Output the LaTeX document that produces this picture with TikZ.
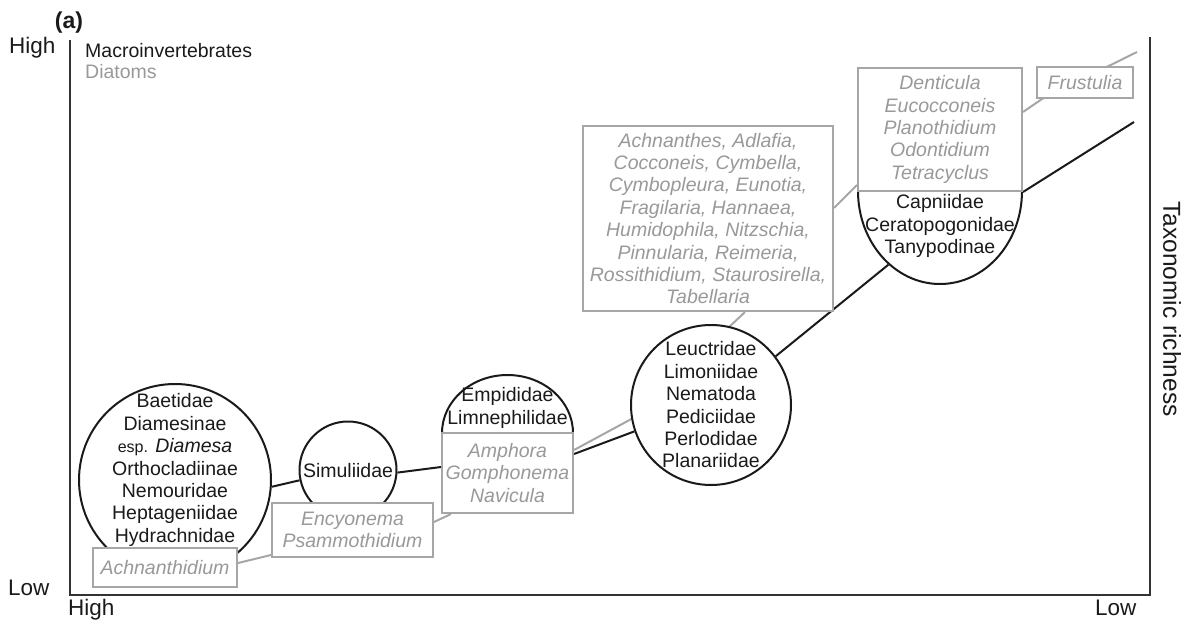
\documentclass[tikz,border=0pt]{standalone}
\usepackage{fontspec}
\setmainfont{Liberation Sans}
\usetikzlibrary{shapes.geometric,backgrounds}
\definecolor{ink}{HTML}{1A1A1A}
\definecolor{axisgray}{HTML}{333333}
\definecolor{diat}{HTML}{999999}
\definecolor{diatline}{HTML}{A6A6A6}

\begin{document}
\begin{tikzpicture}[x=1pt,y=-1pt,
  txt/.style={font=\fontsize{19.5}{22.4}\selectfont, text=ink, align=center, inner sep=0pt},
  gtxt/.style={font=\fontsize{19.5}{22.4}\selectfont\itshape, text=diat, align=center, inner sep=0pt},
  taxon/.style={circle, draw=ink, line width=2pt, fill=white, inner sep=0pt},
  capshape/.style={ellipse, draw=ink, line width=2pt, fill=white, inner sep=0pt},
  genbox/.style={rectangle, draw=diatline, line width=2pt, fill=white, gtxt},
  mline/.style={draw=ink, line width=2pt},
  dline/.style={draw=diatline, line width=2pt},
  axisline/.style={draw=axisgray, line width=2.4pt},
  axlabel/.style={font=\fontsize{22.5}{26}\selectfont, text=ink, inner sep=0pt},
]
\useasboundingbox (0,0) rectangle (1184,624);

% ---- macroinvertebrate groups (circles) and diatom genera (boxes) ----
\node[taxon, minimum size=192pt] (c1) at (175,480) {};
\node[genbox, minimum width=144pt, minimum height=39pt] (a1) at (165,567.5) {Achnanthidium};

\node[taxon, minimum size=97pt] (c2) at (348,470) {};
\node[genbox, minimum width=161pt, minimum height=54pt] (e2) at (352.5,530) {Encyonema\\Psammothidium};

\node[capshape, minimum width=131pt, minimum height=116pt] (e3) at (507.5,433) {};
\node[genbox, minimum width=131pt, minimum height=80pt] (b3) at (507.5,473) {Amphora\\Gomphonema\\Navicula};

\node[taxon, minimum size=160pt] (c4) at (711,405) {};

\node[capshape, minimum width=164pt, minimum height=186pt] (cap5) at (940,191) {};
\node[genbox, minimum width=164pt, minimum height=123pt] (b5) at (940,129.5)
  {Denticula\\Eucocconeis\\Planothidium\\Odontidium\\Tetracyclus};

\node[genbox, minimum width=250pt, minimum height=185pt] (bb) at (708,218.5)
  {Achnanthes, Adlafia,\\Cocconeis, Cymbella,\\Cymbopleura, Eunotia,\\Fragilaria, Hannaea,\\Humidophila, Nitzschia,\\Pinnularia, Reimeria,\\Rossithidium, Staurosirella,\\Tabellaria};

\node[genbox, minimum width=96pt, minimum height=31pt] (f6) at (1085,82.5) {Frustulia};

% ---- family names inside the circles ----
\node[txt] (c1t) at (175,470)
  {Baetidae\\Diamesinae\\{\fontsize{16}{22.4}\selectfont esp.} \textit{Diamesa}\\Orthocladiinae\\Nemouridae\\Heptageniidae\\Hydrachnidae};
\node[txt] (c2t) at (348,471) {Simuliidae};
\node[txt] (e3t) at (507.5,408) {Empididae\\Limnephilidae};
\node[txt] (c4t) at (711,405) {Leuctridae\\Limoniidae\\Nematoda\\Pediciidae\\Perlodidae\\Planariidae};
\node[txt] (cap5t) at (940,226) {Capniidae\\Ceratopogonidae\\Tanypodinae};

% ---- free ends of the two trend lines ----
\coordinate (mEnd) at (1134,122);
\coordinate (dEnd) at (1137,52);

% ---- axes ----
\coordinate (yTop) at (70,40);
\coordinate (orig) at (70,595);
\coordinate (xEnd) at (1150,595);
\coordinate (rTop) at (1150,37);

\begin{pgfonlayer}{background}
  \draw[axisline] (yTop) -- (orig) -- (xEnd) -- (rTop);

  % macroinvertebrate trend
  \draw[mline] (c1.-4) -- (c2.192);
  \draw[mline] (c2.-3) -- ([yshift=6pt]b3.west);
  \draw[mline] ([yshift=19pt]b3.east) -- (c4.199);
  \draw[mline] (c4.37) -- (cap5.235);
  \draw[mline] (b5.south east) -- (mEnd);

  % diatom trend
  \draw[dline] ([yshift=4.5pt]a1.east) -- ([yshift=-25pt]e2.west);
  \draw[dline] ([yshift=8pt]e2.east) -- ([xshift=10pt]b3.south west);
  \draw[dline] ([yshift=23pt]b3.east) -- (c4.190) -- ([xshift=37pt]bb.south);
  \draw[dline] ([yshift=10.5pt]bb.east) -- ([yshift=-55.5pt]b5.west);
  \draw[dline] ([yshift=17.5pt]b5.east) -- ([xshift=6pt]f6.south west);
  \draw[dline] ([xshift=6pt]f6.south west) -- (dEnd);
\end{pgfonlayer}

% ---- axis labels and legend ----
\node[axlabel, anchor=base west] (hiY) at (9,53) {High};
\node[axlabel, anchor=base west] (loY) at (8,595) {Low};
\node[axlabel, anchor=base west] (hiX) at (68,615) {High};
\node[axlabel, anchor=base west] (loX) at (1095,615) {Low};
\node[font=\fontsize{24.5}{28}\selectfont, text=ink, inner sep=0pt, rotate=-90] (ylab) at (1172,309) {Taxonomic richness};
\node[font=\fontsize{23}{26}\selectfont\bfseries, text=ink, inner sep=0pt] (panel) at (69,23) {(a)};
\node[txt, anchor=base west] (legM) at (85,57) {Macroinvertebrates};
\node[txt, text=diat, anchor=base west] (legD) at (85,78) {Diatoms};
\end{tikzpicture}
\end{document}
